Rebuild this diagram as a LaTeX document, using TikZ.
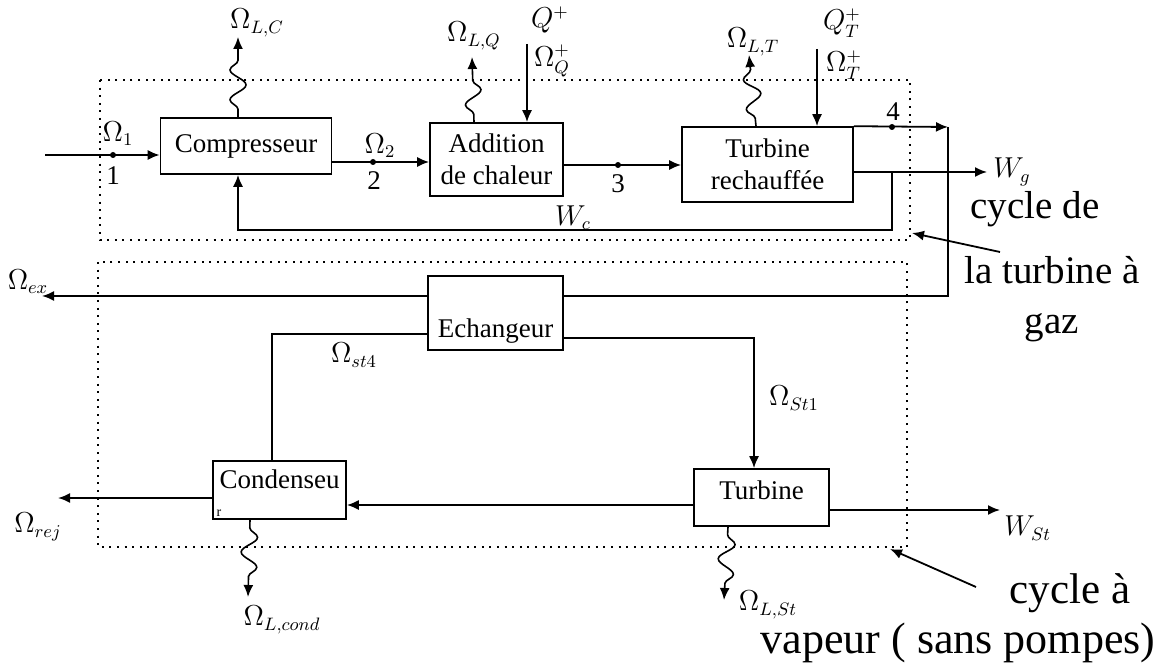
\documentclass[tikz,border=0pt]{standalone}
\usepackage{fontspec}
\setmainfont{Liberation Serif}
\usetikzlibrary{arrows.meta, decorations.pathmorphing}

\begin{document}
\begin{tikzpicture}[x=0.5pt, y=-0.5pt, >={Latex[length=6pt, width=5pt]},
    bloc/.style={draw, line width=0.8pt, inner sep=0pt, align=center,
                 font=\fontsize{13.5}{16}\selectfont},
    flux/.style={line width=0.9pt},
    perte/.style={line width=0.8pt, ->, decorate,
                  decoration={snake, amplitude=4pt, segment length=15pt,
                              pre length=4pt, post length=7pt}},
    zone/.style={line width=0.9pt, dash pattern=on 1pt off 2.8pt},
    lbl/.style={font=\fontsize{13.5}{15}\selectfont, inner sep=0pt},
    pt/.style={circle, fill, inner sep=0pt, minimum size=3pt},
    gros/.style={font=\fontsize{19.5}{23}\selectfont, inner sep=0pt}]
  \useasboundingbox (0,0) rectangle (1159,667);

  % Cycle boundaries
  \draw[zone] (100,80) rectangle (910,240);
  \draw[zone] (98,262) rectangle (907,547);

  % Gas turbine units
  \node[bloc, minimum width=85.5pt, minimum height=28pt]
    (comp) at (246,146) {Compresseur};
  \node[bloc, minimum width=66.5pt, minimum height=36.5pt]
    (addq) at (496.5,159.5) {Addition\\de chaleur};
  \node[bloc, minimum width=85.5pt, minimum height=37.5pt]
    (turbr) at (767.5,164.5) {Turbine\\rechauffée};

  % Steam cycle units
  \node[bloc, minimum width=67.5pt, text height=31pt, text depth=6pt]
    (ech) at (495.5,313) {Echangeur};
  \node[bloc, minimum width=66.5pt, text height=13.5pt, text depth=15.5pt]
    (cond) at (279.5,490) {Condenseu};
  \node[bloc, minimum width=67.5pt, text height=15pt, text depth=13.5pt]
    (turb) at (761.5,497.5) {Turbine};

  % Gas path 1 -> 2 -> 3 -> 4
  \coordinate (in) at (45,155);
  \draw[flux, ->] (in) -- (comp.west |- in);
  \draw[flux, ->] (comp.east |- 0,162) -- (addq.west |- 0,162);
  \draw[flux, ->] (addq.east |- 0,165) -- (turbr.west |- 0,165);
  \coordinate (ex) at (948,127);
  \coordinate (exb) at (948,296);
  \draw[flux, ->] (turbr.north east) -- (ex);
  \draw[flux] (ex) -- (exb) -- (ech.east |- exb);
  \draw[flux, ->] (ech.west |- exb) -- (42,296);

  \node[pt] (p1) at (113,155) {};
  \node[pt] (p2) at (373,162) {};
  \node[pt] (p3) at (618,165) {};
  \node[pt] (p4) at (892,127) {};
  \node[lbl] (om1) at (118,134) {$\Omega_1$};
  \node[lbl] (n1) at (113,176) {1};
  \node[lbl] (om2) at (380,146) {$\Omega_2$};
  \node[lbl] (n2) at (374,181) {2};
  \node[lbl] (n3) at (618,184) {3};
  \node[lbl] (n4) at (893,112) {4};
  \node[lbl] (omex) at (28,282) {$\Omega_{ex}$};

  % Work out and compressor work
  \draw[flux, ->] (turbr.east |- 0,172) -- (987,172);
  \node[lbl, anchor=west] (wg) at (993,172) {$W_g$};
  \coordinate (wc) at (238,230);
  \draw[flux, ->] (892,172) -- (892,230) -- (wc) -- (wc |- comp.south);
  \node[lbl] (lwc) at (573,218) {$W_c$};

  % Heat in
  \coordinate (qa) at (527,44);
  \coordinate (qt) at (817,49);
  \draw[flux, ->] (qa) -- (qa |- addq.north);
  \draw[flux, ->] (qt) -- (qt |- turbr.north);
  \node[lbl] (lq) at (550,20) {$Q^+$};
  \node[lbl] (lomq) at (552,61) {$\Omega^+_Q$};
  \node[lbl] (lqt) at (842,23) {$Q^+_T$};
  \node[lbl] (lomt) at (844,65) {$\Omega^+_T$};

  % Losses of the gas turbine
  \draw[perte] (comp.north -| 238,0) -- (238,37);
  \draw[perte] (addq.north -| 474,0) -- (472,57);
  \draw[perte] (turbr.north -| 756,0) -- (749,55);
  \node[lbl] (llc) at (257,23) {$\Omega_{L,C}$};
  \node[lbl] (llq) at (474,36) {$\Omega_{L,Q}$};
  \node[lbl] (llt) at (753,42) {$\Omega_{L,T}$};

  % Steam loop
  \coordinate (st4) at (272,334);
  \coordinate (st1) at (754,338);
  \draw[flux] (ech.west |- st4) -- (st4) -- (st4 |- cond.north);
  \draw[flux, ->] (ech.east |- st1) -- (st1) -- (st1 |- turb.north);
  \node[lbl] (lst4) at (354,355) {$\Omega_{st4}$};
  \node[lbl] (lst1) at (794,398) {$\Omega_{St1}$};
  \draw[flux, ->] (turb.west |- 0,505) -- (cond.east |- 0,505);
  \draw[flux, ->] (cond.west |- 0,498) -- (58,498);
  \node[lbl] (lrej) at (38,527) {$\Omega_{rej}$};
  \draw[flux, ->] (turb.east |- 0,510) -- (1000,510);
  \node[lbl, anchor=west] (wst) at (1004,528) {$W_{St}$};
  \node[font=\fontsize{7}{8}\selectfont, inner sep=0pt] (rmk) at (219,513) {r};

  % Losses of the steam cycle
  \draw[perte] (cond.south -| 250,0) -- (248,597);
  \draw[perte] (turb.south -| 728,0) -- (724,600);
  \node[lbl] (llcd) at (282,620) {$\Omega_{L,cond}$};
  \node[lbl] (llst) at (768,605) {$\Omega_{L,St}$};

  % Side notes
  \node[gros] (cg1) at (1035,209) {cycle de};
  \node[gros] (cg2) at (1052,270) {la turbine à};
  \node[gros] (cg3) at (1052,328) {gaz};
  \node[gros, font=\fontsize{21.5}{25}\selectfont] (cv1) at (1070,593) {cycle à};
  \node[gros, font=\fontsize{22}{25}\selectfont] (cv2) at (958,643) {vapeur ( sans pompes)};
  \coordinate (ag) at (1000,252);
  \coordinate (av) at (976,587);
  \draw[flux, ->] (ag) -- (912,233);
  \draw[flux, ->] (av) -- (890,549);
\end{tikzpicture}
\end{document}
